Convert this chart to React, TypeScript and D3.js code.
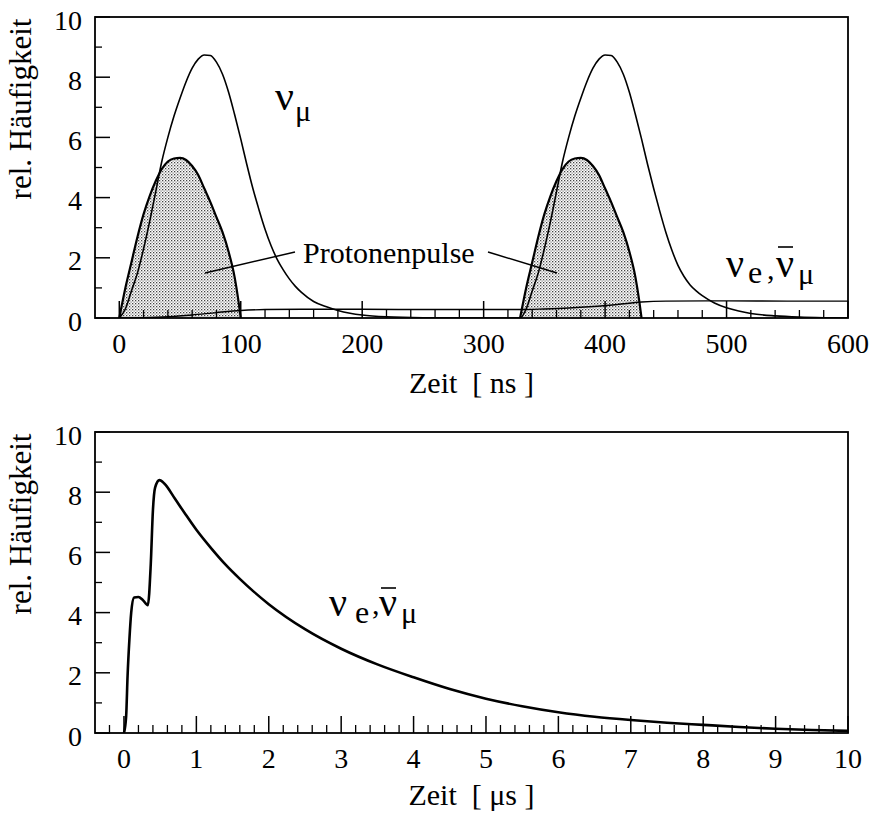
import * as d3 from "d3";

// ---- top panel data (time in ns) ----
const numuT = [0, 5, 10, 15, 20, 25, 30, 35, 40, 45, 50, 55, 60, 65, 70, 75, 80, 85, 90, 95, 100, 105, 110, 115, 120, 125, 130, 135, 140, 145, 150, 160, 170, 180, 190, 200, 220, 250, 300, 330, 335, 340, 345, 350, 355, 360, 365, 370, 375, 380, 385, 390, 395, 400, 405, 410, 415, 420, 425, 430, 435, 440, 445, 450, 455, 460, 465, 470, 475, 480, 490, 500, 510, 520, 540, 560, 580, 600];
const numuV = [0, 0.3, 0.9, 1.5, 2.3, 3.2, 4.2, 5.2, 6.0, 6.7, 7.3, 7.85, 8.3, 8.6, 8.74, 8.72, 8.5, 8.1, 7.5, 6.75, 5.95, 5.1, 4.3, 3.6, 2.95, 2.4, 1.95, 1.6, 1.3, 1.05, 0.85, 0.55, 0.38, 0.25, 0.16, 0.1, 0.04, 0.01, 0, 0, 0.3, 0.9, 1.5, 2.3, 3.2, 4.2, 5.2, 6.0, 6.7, 7.3, 7.85, 8.3, 8.6, 8.74, 8.72, 8.5, 8.1, 7.5, 6.75, 5.95, 5.1, 4.3, 3.55, 2.85, 2.25, 1.75, 1.38, 1.1, 0.9, 0.74, 0.5, 0.34, 0.23, 0.15, 0.07, 0.03, 0.01, 0];

const pulse1T = [0, 5, 10, 15, 20, 25, 30, 35, 40, 45, 50, 55, 60, 65, 70, 75, 80, 85, 90, 95, 98, 100];
const pulse1V = [0, 1.0, 1.85, 2.7, 3.45, 4.05, 4.55, 4.95, 5.2, 5.3, 5.32, 5.25, 5.05, 4.75, 4.3, 3.85, 3.35, 2.85, 2.2, 1.35, 0.6, 0];
const pulse2T = [330, 335, 340, 345, 350, 355, 360, 365, 370, 375, 380, 385, 390, 395, 400, 405, 410, 415, 420, 425, 428, 430];
const pulse2V = [0, 1.0, 1.85, 2.7, 3.45, 4.05, 4.55, 4.95, 5.2, 5.3, 5.32, 5.25, 5.05, 4.75, 4.3, 3.85, 3.35, 2.85, 2.2, 1.35, 0.6, 0];

const nueT = [0, 20, 40, 60, 80, 100, 120, 150, 200, 250, 300, 330, 350, 370, 390, 410, 430, 450, 500, 550, 600];
const nueV = [0, 0.01, 0.04, 0.1, 0.18, 0.25, 0.28, 0.29, 0.29, 0.28, 0.28, 0.28, 0.3, 0.33, 0.38, 0.45, 0.53, 0.56, 0.57, 0.56, 0.56];

// ---- bottom panel data (time in µs) ----
const decayT = [0, 0.03, 0.05, 0.075, 0.1, 0.14, 0.2, 0.26, 0.33, 0.37, 0.4, 0.43, 0.49, 0.56, 0.7, 0.84, 1.0, 1.2, 1.4, 1.6, 1.8, 2.0, 2.5, 3.0, 3.5, 4.0, 4.5, 5.0, 5.5, 6.0, 6.5, 7.0, 7.5, 8.0, 8.5, 9.0, 9.5, 10];
const decayV = [0, 0.55, 1.9, 3.1, 4.0, 4.5, 4.52, 4.42, 4.25, 5.6, 7.4, 8.15, 8.4, 8.28, 7.8, 7.3, 6.75, 6.15, 5.6, 5.12, 4.68, 4.28, 3.45, 2.8, 2.28, 1.85, 1.46, 1.14, 0.89, 0.69, 0.54, 0.43, 0.34, 0.27, 0.2, 0.14, 0.1, 0.07];

const topXTicks = [0, 100, 200, 300, 400, 500, 600];
const botXTicks = [0, 1, 2, 3, 4, 5, 6, 7, 8, 9, 10];
const yTicks = [0, 2, 4, 6, 8, 10];

const FONT = "'Liberation Serif', 'Times New Roman', serif";
const L = 95;
const R = 848;

type Pt = [number, number];
const zip = (t: number[], v: number[]): Pt[] => t.map((d, i) => [d, v[i]]);

function Frame({ x, y, minorX, majorX, label, xLabel, xLabelY }: any) {
  const [y0, y1] = y.range();
  const minorY = d3.range(1, 10, 2);
  return (
    <g>
      {yTicks.map((v) => (
        <g key={"yt" + v}>
          <line x1={L} x2={L + 15} y1={y(v)} y2={y(v)} stroke="#000" strokeWidth={1.5} />
          <text x={82} y={y(v) + 3} textAnchor="end" dominantBaseline="central" fontSize={28} fontFamily={FONT}>{v}</text>
        </g>
      ))}
      {minorY.map((v) => (
        <line key={"ym" + v} x1={L} x2={L + 7} y1={y(v)} y2={y(v)} stroke="#000" strokeWidth={1.3} />
      ))}
      {minorX.map((v: number, i: number) => (
        <line key={"xm" + i} x1={x(v)} x2={x(v)} y1={y0} y2={y0 - 8} stroke="#000" strokeWidth={1.3} />
      ))}
      {majorX.map((v: number) => (
        <g key={"xt" + v}>
          <line x1={x(v)} x2={x(v)} y1={y0} y2={y0 - 17} stroke="#000" strokeWidth={1.5} />
          <text x={x(v)} y={label} textAnchor="middle" fontSize={28} fontFamily={FONT}>{v}</text>
        </g>
      ))}
      <rect x={L} y={y1} width={R - L} height={y0 - y1} fill="none" stroke="#000" strokeWidth={1.8} />
      <text x={(L + R) / 2} y={xLabelY} textAnchor="middle" fontSize={30} fontFamily={FONT} style={{ whiteSpace: "pre" }}>{xLabel}</text>
      <text transform={`translate(31,${y1 + 92}) rotate(-90)`} textAnchor="middle" fontSize={31} fontFamily={FONT}>rel. Häufigkeit</text>
    </g>
  );
}

export default function App() {
  const xTop = d3.scaleLinear().domain([-20, 600]).range([L, R]);
  const yTop = d3.scaleLinear().domain([0, 10]).range([318, 17]);
  const xBot = d3.scaleLinear().domain([-0.4, 10]).range([L, R]);
  const yBot = d3.scaleLinear().domain([0, 10]).range([733, 432]);

  const lineTop = d3.line<Pt>().x((d) => xTop(d[0])).y((d) => yTop(d[1])).curve(d3.curveMonotoneX);
  const areaTop = d3.area<Pt>().x((d) => xTop(d[0])).y0(yTop(0)).y1((d) => yTop(d[1])).curve(d3.curveMonotoneX);
  const lineBot = d3.line<Pt>().x((d) => xBot(d[0])).y((d) => yBot(d[1])).curve(d3.curveMonotoneX);

  const topMinor = d3.range(20, 600, 20).filter((v) => v % 100 !== 0);
  const botMinor = d3.range(-2, 100, 2).filter((v) => v % 10 !== 0).map((v) => v / 10);

  const p1 = zip(pulse1T, pulse1V);
  const p2 = zip(pulse2T, pulse2V);

  return (
    <svg width={871} height={814} style={{ position: "absolute", left: 0, top: 0, background: "#fff" }}>
      <defs>
        <pattern id="dots" width={3} height={3} patternUnits="userSpaceOnUse">
          <rect width={3} height={3} fill="#fff" />
          <rect x={0} y={0} width={1.3} height={1.3} fill="#444" />
          <rect x={1.5} y={1.5} width={1.2} height={1.2} fill="#777" />
        </pattern>
        <clipPath id="clipTop"><rect x={L} y={17} width={R - L} height={301} /></clipPath>
        <clipPath id="clipBot"><rect x={L} y={432} width={R - L} height={301} /></clipPath>
      </defs>

      {/* upper panel */}
      <g clipPath="url(#clipTop)">
        <path d={areaTop(p1) ?? ""} fill="url(#dots)" />
        <path d={areaTop(p2) ?? ""} fill="url(#dots)" />
        <path d={lineTop(p1) ?? ""} fill="none" stroke="#000" strokeWidth={2.2} />
        <path d={lineTop(p2) ?? ""} fill="none" stroke="#000" strokeWidth={2.2} />
        <path d={lineTop(zip(numuT, numuV)) ?? ""} fill="none" stroke="#000" strokeWidth={1.6} />
        <path d={lineTop(zip(nueT, nueV)) ?? ""} fill="none" stroke="#000" strokeWidth={1.4} />
      </g>
      <Frame x={xTop} y={yTop} minorX={topMinor} majorX={topXTicks} label={353} xLabel={"Zeit  [ ns ]"} xLabelY={393} />

      <text x={275} y={110} fontSize={42} fontFamily={FONT}>ν</text>
      <text x={295} y={121} fontSize={30} fontFamily={FONT}>μ</text>

      <text x={303} y={263} fontSize={30} fontFamily={FONT}>Protonenpulse</text>
      <line x1={295} y1={252} x2={205} y2={273} stroke="#000" strokeWidth={1.5} />
      <line x1={488} y1={252} x2={557} y2={273} stroke="#000" strokeWidth={1.5} />

      <text x={726} y={277} fontSize={40} fontFamily={FONT}>ν</text>
      <text x={748} y={283} fontSize={32} fontFamily={FONT}>e</text>
      <text x={767} y={279} fontSize={30} fontFamily={FONT}>,</text>
      <text x={776} y={277} fontSize={40} fontFamily={FONT}>ν</text>
      <line x1={778} x2={793} y1={247} y2={247} stroke="#000" strokeWidth={1.6} />
      <text x={798} y={284} fontSize={30} fontFamily={FONT}>μ</text>

      {/* lower panel */}
      <g clipPath="url(#clipBot)">
        <path d={lineBot(zip(decayT, decayV)) ?? ""} fill="none" stroke="#000" strokeWidth={2.6} />
      </g>
      <Frame x={xBot} y={yBot} minorX={botMinor} majorX={botXTicks} label={768} xLabel={"Zeit  [ μs ]"} xLabelY={805} />

      <text x={329} y={616} fontSize={40} fontFamily={FONT}>ν</text>
      <text x={355} y={623} fontSize={32} fontFamily={FONT}>e</text>
      <text x={372} y={614} fontSize={30} fontFamily={FONT}>,</text>
      <text x={379} y={616} fontSize={40} fontFamily={FONT}>ν</text>
      <line x1={381} x2={396} y1={588} y2={588} stroke="#000" strokeWidth={1.6} />
      <text x={401} y={623} fontSize={30} fontFamily={FONT}>μ</text>
    </svg>
  );
}
